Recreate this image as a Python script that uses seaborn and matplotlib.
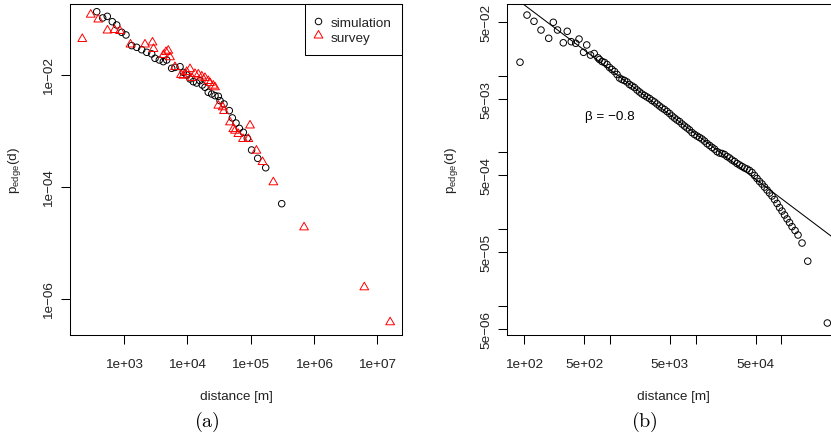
import numpy as np
import pandas as pd
import matplotlib
matplotlib.use("Agg")
import matplotlib.pyplot as plt
import seaborn as sns
from matplotlib.path import Path
from matplotlib.lines import Line2D

# ---------------- data: panel (a) ----------------
sim_a_dist = [366, 455, 538, 646, 758, 910, 1064, 1310, 1573, 1888,
              2265, 2718, 3066, 3589, 4153, 4700, 5640, 6360, 7640, 8610,
              9750, 11000, 12400, 14000, 15800, 17200, 19000, 21400, 24300, 27400,
              30900, 32900, 38000, 46100, 51500, 58900, 66500, 76900, 88900, 104000,
              130000, 174000, 312000]
sim_a_p = [0.133, 0.103, 0.110, 0.0883, 0.0772, 0.0571, 0.0512, 0.0330, 0.0308, 0.0279,
           0.0251, 0.0235, 0.0196, 0.0183, 0.0171, 0.0183, 0.0130, 0.0135, 0.0139, 0.0110,
           0.00988, 0.00838, 0.0075, 0.00711, 0.00782, 0.00654, 0.00596, 0.00485, 0.00452, 0.00422,
           0.00411, 0.00343, 0.0030, 0.00228, 0.00169, 0.00137, 0.00110, 0.000936, 0.000731, 0.000452,
           0.000321, 0.000218, 0.0000497]

survey_a_dist = [216, 294, 387, 542, 700, 855, 1254, 2128, 2800, 2904,
                 4180, 4580, 4980, 5300, 6360, 7920, 8610, 9750, 11000, 11800,
                 13200, 14900, 16900, 19000, 21400, 22800, 25700, 27400, 30900, 36300,
                 38000, 47300, 53400, 56800, 64100, 76100, 92300, 98200, 124000, 155000,
                 230000, 705000, 6350000, 16300000]
survey_a_p = [0.0434, 0.118, 0.0968, 0.0615, 0.0628, 0.0603, 0.0346, 0.0346, 0.0376, 0.0288,
              0.0225, 0.0254, 0.0268, 0.0205, 0.0137, 0.00988, 0.00960, 0.0112, 0.0126, 0.00873,
              0.0103, 0.0101, 0.00929, 0.00873, 0.00772, 0.00711, 0.00637, 0.00596, 0.00280, 0.00262,
              0.00225, 0.00141, 0.00107, 0.0010, 0.000873, 0.000711, 0.000711, 0.00124, 0.00044, 0.000276,
              0.00012, 0.0000188, 0.0000016, 0.00000038]

# ---------------- data: panel (b) ----------------
sim_b_dist = [89.1, 107.5, 129.7, 156.6, 192.6, 218, 244, 285, 317, 353,
              398, 435, 491, 535, 592, 654, 724,
              754, 807, 863, 923, 987, 1055, 1129, 1207, 1291, 1380,
              1476, 1579, 1689, 1806, 1931, 2066, 2209, 2363, 2527, 2703,
              2890, 3091, 3306, 3536, 3781, 4044, 4325, 4626, 4947, 5291,
              5658, 6052, 6472, 6922, 7403, 7917, 8468, 9056, 9685, 10360,
              11080, 11840, 12670, 13550, 14490, 15500, 16570, 17730, 18960, 20270,
              21690, 23190, 24800, 26530, 28370, 30340, 32450, 34700, 37110, 39690,
              42450, 45400, 48550, 51930, 55530, 59390, 63520, 67930, 72650, 77700,
              83100, 88870, 95040, 101600, 108700, 116300, 124300, 133000,
              144200, 156200, 174000, 202900, 343500]
sim_b_p = [0.0150, 0.0619, 0.0513, 0.0395, 0.0308, 0.0498, 0.0395, 0.0269, 0.0380, 0.0278,
           0.0265, 0.0301, 0.0202, 0.0252, 0.0186, 0.0195, 0.0171,
           0.01627, 0.01532, 0.01487, 0.01400, 0.01280, 0.01205, 0.01134, 0.01037, 0.00933, 0.00892,
           0.00866, 0.00828, 0.00768, 0.00734, 0.00701, 0.00651, 0.00613, 0.00577, 0.00551, 0.00527,
           0.00504, 0.00475, 0.00454, 0.00427, 0.00402, 0.00379, 0.00362, 0.00341, 0.00321, 0.00298,
           0.00280, 0.00264, 0.00252, 0.00234, 0.00220, 0.00208, 0.00196, 0.00181, 0.00171, 0.00163,
           0.00156, 0.00149, 0.00140, 0.00130, 0.00123, 0.00116, 0.00110, 0.00102, 0.000979, 0.000964,
           0.000936, 0.000882, 0.000843, 0.000793, 0.000759, 0.000714, 0.000683, 0.000653, 0.000624, 0.000605,
           0.000579, 0.000545, 0.000498, 0.000455, 0.000416, 0.000386, 0.000352, 0.000322, 0.000294, 0.000269,
           0.000242, 0.000215, 0.000190, 0.000171, 0.000152, 0.000135, 0.000121, 0.000107,
           0.0000953, 0.0000832, 0.0000654, 0.0000379, 0.00000591]

# fitted power law p = 10**fit_log10_c * d**fit_slope
fit_slope = -0.843
fit_log10_c = 0.61
fit_label = "β = −0.8"

# ticks
a_xticks = [1e3, 1e4, 1e5, 1e6, 1e7]
a_xticklabels = ["1e+03", "1e+04", "1e+05", "1e+06", "1e+07"]
a_yticks = [1e-6, 1e-4, 1e-2]
a_yticklabels = ["1e−06", "1e−04", "1e−02"]
b_xticks = [1e2, 5e2, 1e3, 5e3, 1e4, 5e4, 1e5]
b_xticklabels = ["1e+02", "5e+02", "", "5e+03", "", "5e+04", ""]
b_yticks = [5e-2, 1e-2, 5e-3, 1e-3, 5e-4, 1e-4, 5e-5, 1e-5, 5e-6]
b_yticklabels = ["5e−02", "", "5e−03", "", "5e−04", "", "5e−05", "", "5e−06"]

# ---------------- style ----------------
plt.rcParams["font.family"] = ["Liberation Sans", "DejaVu Sans"]
plt.rcParams["mathtext.fontset"] = "custom"
plt.rcParams["mathtext.rm"] = "Liberation Sans"
plt.rcParams["mathtext.it"] = "Liberation Sans:italic"
plt.rcParams["axes.linewidth"] = 0.75
FS = 9.7

W, H = 831, 439
fig = plt.figure(figsize=(W / 100, H / 100), dpi=100)

def px_axes(x0, y0, x1, y1):
    return fig.add_axes([x0 / W, (H - y1) / H, (x1 - x0) / W, (y1 - y0) / H])

axA = px_axes(70, 5, 402, 336)
axB = px_axes(507.3, 4.5, 839.7, 336)

tri = Path([(0, 1), (-0.866, -0.5), (0.866, -0.5), (0, 1)],
           [Path.MOVETO, Path.LINETO, Path.LINETO, Path.CLOSEPOLY])

CIRC_S = 22
TRI_S = 53
LW = 0.7

dfa_sim = pd.DataFrame({"dist": sim_a_dist, "p": sim_a_p})
dfa_sur = pd.DataFrame({"dist": survey_a_dist, "p": survey_a_p})
dfb = pd.DataFrame({"dist": sim_b_dist, "p": sim_b_p})

for ax in (axA, axB):
    ax.set_xscale("log")
    ax.set_yscale("log")

sns.scatterplot(data=dfa_sim, x="dist", y="p", ax=axA, marker="o", s=CIRC_S,
                facecolors="none", edgecolor="black", linewidth=LW, zorder=3)
sns.scatterplot(data=dfa_sur, x="dist", y="p", ax=axA, marker=tri, s=TRI_S,
                facecolors="none", edgecolor="#ff0000", linewidth=LW, zorder=3)
sns.scatterplot(data=dfb, x="dist", y="p", ax=axB, marker="o", s=CIRC_S,
                facecolors="none", edgecolor="black", linewidth=LW, zorder=3)

axA.set_xlim(10 ** 2.14, 10 ** 7.40)
axA.set_ylim(10 ** -6.648, 10 ** -0.738)
axB.set_xlim(10 ** 1.8016, 10 ** 5.680)
axB.set_ylim(10 ** -5.385, 10 ** -1.0574)

# fit line across the whole panel
xl = axB.get_xlim()
fit_x = np.array([xl[0], xl[1]])
fit_df = pd.DataFrame({"dist": fit_x, "p": 10 ** fit_log10_c * fit_x ** fit_slope})
sns.lineplot(data=fit_df, x="dist", y="p", ax=axB, color="black", linewidth=0.75,
             zorder=2, legend=False)
axB.set_xlim(*xl)
axB.text(1000, 0.003, fit_label, fontsize=FS, ha="center", va="center")

for ax, xt, xtl, yt, ytl in ((axA, a_xticks, a_xticklabels, a_yticks, a_yticklabels),
                             (axB, b_xticks, b_xticklabels, b_yticks, b_yticklabels)):
    ax.minorticks_off()
    ax.set_xticks(xt)
    ax.set_xticklabels(xtl)
    ax.set_yticks(yt)
    ax.set_yticklabels(ytl)
    ax.minorticks_off()
    ax.tick_params(axis="both", which="major", direction="out", length=6.5, width=0.75,
                   color="black", labelsize=FS, labelcolor="#222222")
    ax.tick_params(axis="x", pad=10)
    ax.tick_params(axis="y", pad=4.5)
    for lbl in ax.get_yticklabels():
        lbl.set_rotation(90)
        lbl.set_va("center")
    for sp in ax.spines.values():
        sp.set_color("black")
        sp.set_linewidth(0.75)
    ax.set_xlabel("distance [m]", fontsize=FS, color="#222222")
    ax.set_ylabel(r"$\mathregular{p_{edge}(d)}$", fontsize=FS, color="#222222")
    ax.xaxis.set_label_coords(0.5, -0.166)
    ax.yaxis.set_label_coords(-0.142, 0.5)
    ax.set_facecolor("white")

handles = [
    Line2D([], [], linestyle="none", marker="o", markersize=np.sqrt(CIRC_S),
           markerfacecolor="none", markeredgecolor="black", markeredgewidth=LW),
    Line2D([], [], linestyle="none", marker=tri, markersize=np.sqrt(TRI_S),
           markerfacecolor="none", markeredgecolor="#ff0000", markeredgewidth=LW),
]
leg = axA.legend(handles, ["simulation", "survey"], loc="upper right",
                 bbox_to_anchor=(1, 1), borderaxespad=0, fontsize=FS,
                 frameon=True, fancybox=False, edgecolor="black", framealpha=1,
                 borderpad=0.8, handlelength=0.3, handleheight=1.25,
                 handletextpad=0.77, labelspacing=0.0)
leg.get_frame().set_linewidth(0.75)
for t in leg.get_texts():
    t.set_color("#222222")

fig.text(206.7 / W, 1 - 421.7 / H, r"$\mathrm{(a)}$", math_fontfamily="cm",
         fontsize=14.5, ha="center", va="center")
fig.text(644 / W, 1 - 421.7 / H, r"$\mathrm{(b)}$", math_fontfamily="cm",
         fontsize=14.5, ha="center", va="center")

fig.savefig("out.png", dpi=100, facecolor="white")
